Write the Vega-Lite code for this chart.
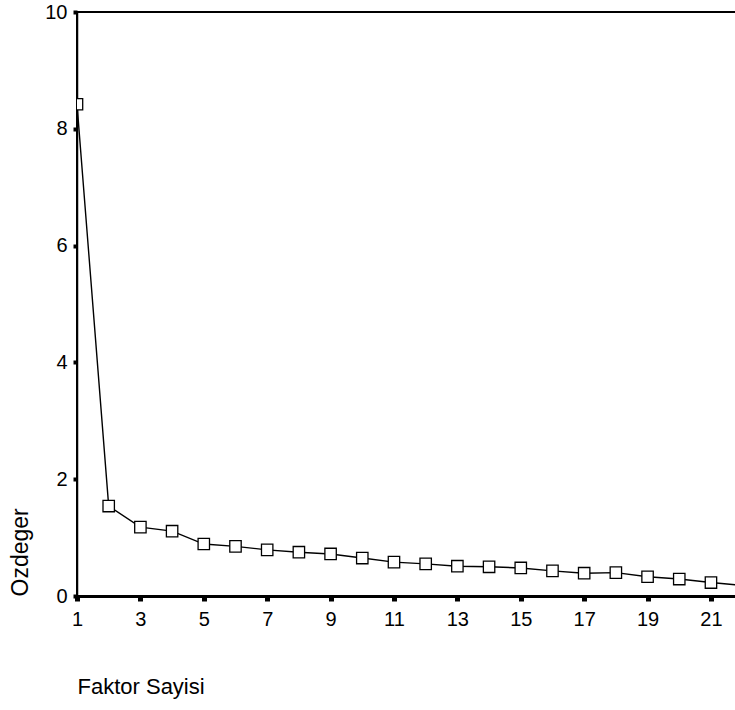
{
  "$schema": "https://vega.github.io/schema/vega-lite/v6.json",
  "autosize": {"type": "none"},
  "padding": {"left": 77, "top": 12, "right": 0, "bottom": 114},
  "width": 659,
  "height": 584,
  "background": "white",
  "view": {"stroke": "black", "strokeWidth": 2},
  "data": {
    "values": [
      {"faktor": 1, "ozdeger": 8.42},
      {"faktor": 2, "ozdeger": 1.54},
      {"faktor": 3, "ozdeger": 1.18},
      {"faktor": 4, "ozdeger": 1.11},
      {"faktor": 5, "ozdeger": 0.89},
      {"faktor": 6, "ozdeger": 0.85},
      {"faktor": 7, "ozdeger": 0.79},
      {"faktor": 8, "ozdeger": 0.75},
      {"faktor": 9, "ozdeger": 0.72},
      {"faktor": 10, "ozdeger": 0.65},
      {"faktor": 11, "ozdeger": 0.58},
      {"faktor": 12, "ozdeger": 0.55},
      {"faktor": 13, "ozdeger": 0.51},
      {"faktor": 14, "ozdeger": 0.5},
      {"faktor": 15, "ozdeger": 0.48},
      {"faktor": 16, "ozdeger": 0.43},
      {"faktor": 17, "ozdeger": 0.39},
      {"faktor": 18, "ozdeger": 0.4},
      {"faktor": 19, "ozdeger": 0.33},
      {"faktor": 20, "ozdeger": 0.29},
      {"faktor": 21, "ozdeger": 0.23},
      {"faktor": 22, "ozdeger": 0.18}
    ]
  },
  "encoding": {
    "x": {
      "field": "faktor",
      "type": "quantitative",
      "scale": {"domain": [1, 21.79], "nice": false, "zero": false},
      "axis": {
        "title": "Faktor Sayisi",
        "values": [1, 3, 5, 7, 9, 11, 13, 15, 17, 19, 21],
        "grid": false,
        "domainColor": "black",
        "domainWidth": 3,
        "tickColor": "black",
        "tickSize": 5,
        "tickWidth": 5,
        "labelPadding": 8,
        "labelFont": "Liberation Sans",
        "labelFontSize": 20,
        "labelColor": "black",
        "labelFlush": false,
        "titleFont": "Liberation Sans",
        "titleFontSize": 22,
        "titleFontWeight": "normal",
        "titleColor": "black",
        "titleAnchor": "start",
        "titlePadding": 47
      }
    },
    "y": {
      "field": "ozdeger",
      "type": "quantitative",
      "scale": {"domain": [0, 10], "nice": false},
      "axis": {
        "title": "Ozdeger",
        "values": [0, 2, 4, 6, 8, 10],
        "grid": false,
        "domainColor": "black",
        "domainWidth": 1.5,
        "tickColor": "black",
        "tickSize": 4,
        "tickWidth": 4,
        "labelPadding": 6,
        "labelFont": "Liberation Sans",
        "labelFontSize": 20,
        "labelColor": "black",
        "labelFlush": false,
        "titleFont": "Liberation Sans",
        "titleFontSize": 23,
        "titleFontWeight": "normal",
        "titleColor": "black",
        "titleAnchor": "start",
        "titlePadding": 12
      }
    }
  },
  "layer": [
    {
      "mark": {"type": "line", "color": "black", "strokeWidth": 1.4, "clip": true}
    },
    {
      "mark": {"type": "point", "shape": "square", "size": 130, "filled": true, "fill": "white", "stroke": "black", "strokeWidth": 1.3, "opacity": 1, "clip": true}
    }
  ]
}
